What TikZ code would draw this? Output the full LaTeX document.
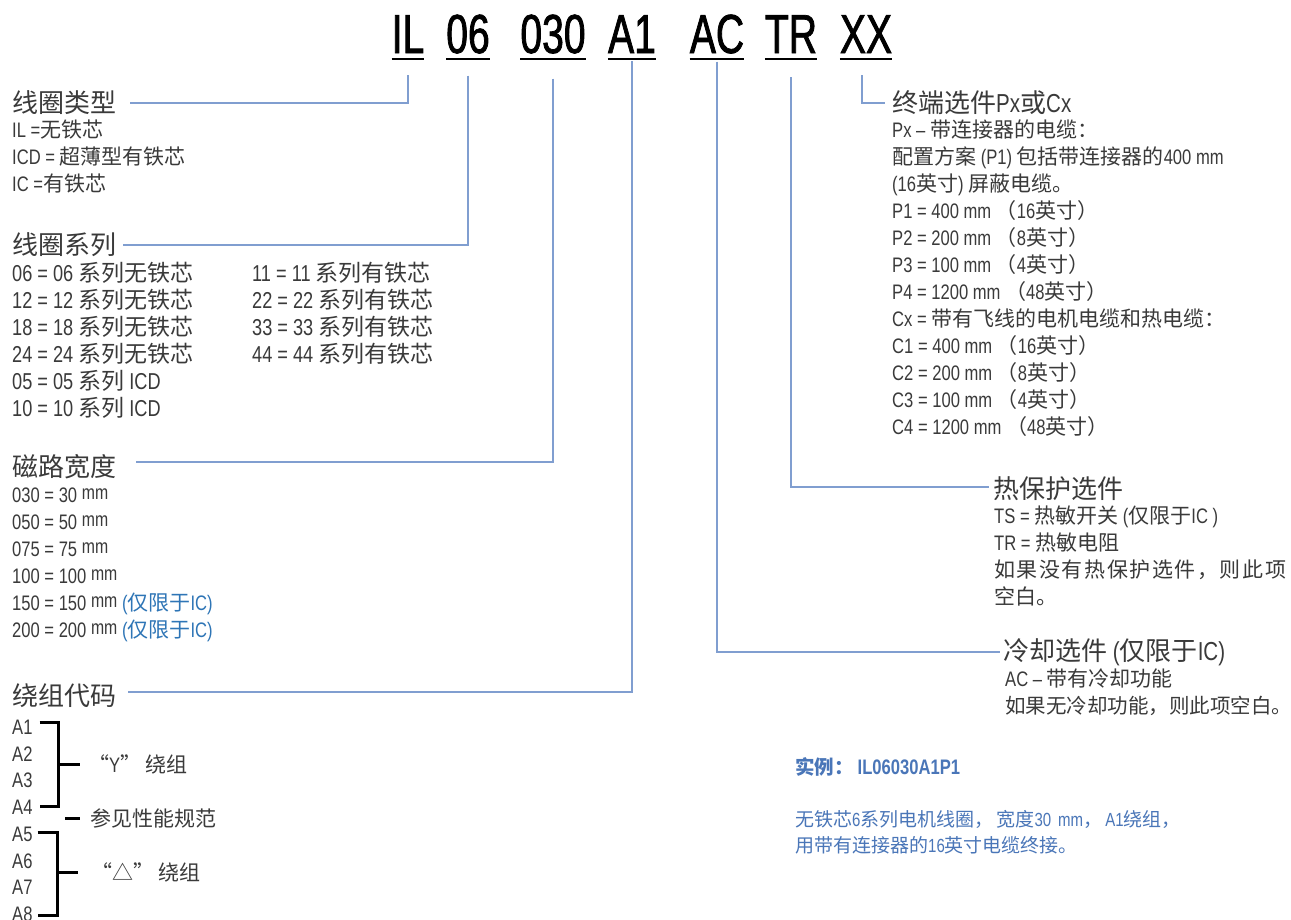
\documentclass[tikz,border=0pt]{standalone}
\usepackage{fontspec}
\usetikzlibrary{calc}
\setmainfont{Liberation Sans}[FakeStretch=0.79]
\newfontfamily\latf{Liberation Sans}[FakeStretch=0.79]
\newfontfamily\cjkf{Noto Sans CJK SC}
\newfontfamily\cjksp{Noto Sans CJK SC}[LetterSpace=7.5]
\newfontfamily\codef{Liberation Sans}[FakeStretch=0.71,FakeBold=1.4]
\XeTeXinterchartokenstate=1
\count255="4E00
\loop\XeTeXcharclass\count255=7 \ifnum\count255<"9FFF\relax\advance\count255 by 1 \repeat
\count255="3000
\loop\XeTeXcharclass\count255=7 \ifnum\count255<"303F\relax\advance\count255 by 1 \repeat
\count255="FF00
\loop\XeTeXcharclass\count255=7 \ifnum\count255<"FFEF\relax\advance\count255 by 1 \repeat
\XeTeXcharclass"201C=7
\XeTeXcharclass"201D=7
\XeTeXcharclass"25B3=7
\XeTeXinterchartoks 0 7 = {\cjkf}
\XeTeXinterchartoks 4095 7 = {\cjkf}
\XeTeXinterchartoks 7 0 = {\latf}
\XeTeXinterchartoks 7 4095 = {\latf}
\definecolor{txt}{RGB}{58,58,58}
\definecolor{connc}{RGB}{128,158,208}
\definecolor{hl}{RGB}{46,117,182}
\definecolor{exc}{RGB}{74,118,184}
\newcommand{\smm}{\raisebox{2.5pt}{\fontsize{20}{20}\selectfont mm}}
\tikzset{
  body/.style={anchor=base west, inner sep=0pt, text=txt, font=\fontsize{21}{21}\selectfont},
  bodyL/.style={body, font=\fontsize{23}{23}\selectfont},
  bodyA/.style={body, font=\fontsize{21}{21}\selectfont},
  head/.style={anchor=west, inner sep=0pt, text=txt, font=\fontsize{26}{26}\selectfont},
  code/.style={anchor=base, inner sep=0pt, text=black, font=\codef\fontsize{55}{55}\selectfont},
  conn/.style={draw=connc, line width=1.3pt},
  brk/.style={draw=black, line width=3pt, line join=miter},
  uline/.style={draw=black, line width=2.6pt},
}
\begin{document}
\begin{tikzpicture}[x=1pt,y=-1pt]
\useasboundingbox[fill=white] (0,0) rectangle (1291,919);

% ---- top code ----
\node[code] (cIL)  at (408,53) {IL};
\node[code] (c06)  at (468,53) {06};
\node[code] (c030) at (553,53) {030};
\node[code] (cA1)  at (632,53) {A1};
\node[code] (cAC)  at (717,53) {AC};
\node[code] (cTR)  at (791,53) {TR};
\node[code] (cXX)  at (866,53) {XX};
\foreach \n in {cIL,c06,c030,cA1,cAC,cTR,cXX}
  \draw[uline] ([yshift=-6pt]\n.base west) -- ([yshift=-6pt]\n.base east);

% ---- coil type ----
\node[head] (hType) at (12,103) {线圈类型};
\node[body] (t1) at (12,137) {IL =无铁芯};
\node[body] (t2) at (12,164) {ICD = 超薄型有铁芯};
\node[body] (t3) at (12,191) {IC =有铁芯};

% ---- coil series ----
\node[head] (hSer) at (12,245) {线圈系列};
\node[bodyL] (s1) at (12,281) {06 = 06 系列无铁芯};
\node[bodyL] (s2) at (12,308) {12 = 12 系列无铁芯};
\node[bodyL] (s3) at (12,335) {18 = 18 系列无铁芯};
\node[bodyL] (s4) at (12,362) {24 = 24 系列无铁芯};
\node[bodyL] (s5) at (12,389) {05 = 05 系列 ICD};
\node[bodyL] (s6) at (12,416) {10 = 10 系列 ICD};
\node[bodyL] (s7) at (252,281) {11 = 11 系列有铁芯};
\node[bodyL] (s8) at (252,308) {22 = 22 系列有铁芯};
\node[bodyL] (s9) at (252,335) {33 = 33 系列有铁芯};
\node[bodyL] (s10) at (252,362) {44 = 44 系列有铁芯};

% ---- magnetic width ----
\node[head] (hWid) at (12,467) {磁路宽度};
\node[body] (w1) at (12,502) {030 = 30 \smm};
\node[body] (w2) at (12,529) {050 = 50 \smm};
\node[body] (w3) at (12,556) {075 = 75 \smm};
\node[body] (w4) at (12,583) {100 = 100 \smm};
\node[body] (w5) at (12,610) {150 = 150 \smm\ \textcolor{hl}{(仅限于IC)}};
\node[body] (w6) at (12,637) {200 = 200 \smm\ \textcolor{hl}{(仅限于IC)}};

% ---- winding code ----
\node[head] (hWind) at (12,696) {绕组代码};
\node[bodyA] (a1) at (12,734.5) {A1};
\node[bodyA] (a2) at (12,761.2) {A2};
\node[bodyA] (a3) at (12,787.9) {A3};
\node[bodyA] (a4) at (12,814.6) {A4};
\node[bodyA] (a5) at (12,841.3) {A5};
\node[bodyA] (a6) at (12,868.0) {A6};
\node[bodyA] (a7) at (12,894.7) {A7};
\node[bodyA] (a8) at (12,921.4) {A8};
\node[bodyA,anchor=west] (ylab) at (88,764) {“Y” 绕组};
\node[bodyA,anchor=west] (spec) at (90,818) {参见性能规范};
\node[bodyA,anchor=west] (dlab) at (91,872) {“△” 绕组};
\draw[brk] ([xshift=7pt]a1.east |- 0,722) -- (58,722) -- (58,806) -- ([xshift=7pt]a4.east |- 0,806);
\draw[brk] (58,764) -- ([xshift=-8pt]ylab.west);
\draw[brk] ([xshift=-25pt]spec.west) -- ([xshift=-10pt]spec.west);
\draw[brk] ([xshift=5pt]a5.east |- 0,832) -- (57,832) -- (57,915) -- ([xshift=5pt]a8.east |- 0,915);
\draw[brk] (57,872) -- ([xshift=-13pt]dlab.west);

% ---- termination ----
\node[head] (hTerm) at (892,103) {终端选件Px或Cx};
\node[body] (r1)  at (892,137) {Px – 带连接器的电缆：};
\node[body] (r2)  at (892,164) {配置方案 (P1) 包括带连接器的400 mm};
\node[body] (r3)  at (892,191) {(16英寸) 屏蔽电缆。};
\node[body] (r4)  at (892,218) {P1 = 400 mm （16英寸）};
\node[body] (r5)  at (892,245) {P2 = 200 mm （8英寸）};
\node[body] (r6)  at (892,272) {P3 = 100 mm （4英寸）};
\node[body] (r7)  at (892,299) {P4 = 1200 mm （48英寸）};
\node[body] (r8)  at (892,326) {Cx = 带有飞线的电机电缆和热电缆：};
\node[body] (r9)  at (892,353) {C1 = 400 mm （16英寸）};
\node[body] (r10) at (892,380) {C2 = 200 mm （8英寸）};
\node[body] (r11) at (892,407) {C3 = 100 mm （4英寸）};
\node[body] (r12) at (892,434) {C4 = 1200 mm （48英寸）};

% ---- thermal ----
\node[head] (hTherm) at (993,489) {热保护选件};
\node[body] (p1) at (994,523) {TS = 热敏开关 (仅限于IC )};
\node[body] (p2) at (994,550) {TR = 热敏电阻};
\node[body] (p3) at (994,577) {\let\cjkf\cjksp 如果没有热保护选件，则此项};
\node[body] (p4) at (994,604) {空白。};

% ---- cooling ----
\node[head] (hCool) at (1003,652) {冷却选件 (仅限于IC)};
\node[body] (k1) at (1005,686) {AC – 带有冷却功能};
\node[body,font=\fontsize{20.5}{20.5}\selectfont] (k2) at (1005,713) {如果无冷却功能，则此项空白。};

% ---- example ----
\node[body,text=exc,font=\bfseries\fontsize{19.5}{19.5}\selectfont] (ex1) at (795,774) {实例：\hspace{4pt}{\fontsize{21}{21}\selectfont IL06030A1P1}};
\node[body,text=exc,font=\fontsize{19}{19}\selectfont] (ex2) at (795,826) {无铁芯6系列电机线圈，\hspace{3pt}宽度30\hspace{7pt}mm，\hspace{3pt}A1绕组，};
\node[body,text=exc,font=\fontsize{19}{19}\selectfont] (ex3) at (795,852) {用带有连接器的16英寸电缆终接。};

% ---- connectors ----
\draw[conn] ([yshift=-22pt]cIL.south)  |- ([xshift=14pt]hType.east);
\draw[conn] ([yshift=-22pt]c06.south)  |- ([xshift=7pt]hSer.east);
\draw[conn] ([yshift=-25pt]c030.south) |- ([xshift=20pt,yshift=5pt]hWid.east);
\draw[conn] ([yshift=-8pt]cA1.south)   |- ([xshift=12pt,yshift=4pt]hWind.east);
\draw[conn] ([yshift=-8pt]cAC.south)   |- ([xshift=-3pt]hCool.west);
\draw[conn] ([yshift=-24pt]cTR.south)  |- ([xshift=-4pt,yshift=2pt]hTherm.west);
\draw[conn] ([yshift=-22pt,xshift=-4pt]cXX.south) |- ([xshift=-7pt]hTerm.west);
\end{tikzpicture}
\end{document}
